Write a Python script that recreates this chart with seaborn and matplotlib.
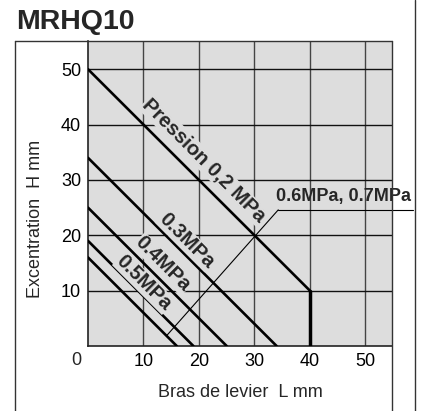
import matplotlib
matplotlib.use("Agg")
import matplotlib.pyplot as plt
import seaborn as sns
import pandas as pd
from matplotlib.lines import Line2D

# ---- data ----
title = "MRHQ10"
x_label = "Bras de levier  L mm"
y_label = "Excentration  H mm"
x_ticks = [10, 20, 30, 40, 50]
y_ticks = [10, 20, 30, 40, 50]
origin_label = "0"

# pressure curves (endpoints)
p02_x = [0, 40]
p02_y = [50, 10]
p02_drop_x = [40, 40]
p02_drop_y = [10, 0]
p03_x = [0, 34]
p03_y = [34, 0]
p04_x = [0, 25]
p04_y = [25, 0]
p05_x = [0, 19]
p05_y = [19, 0]
p067_x = [0, 16]
p067_y = [16, 0]

labels = ["Pression 0,2 MPa", "0.3MPa", "0.4MPa", "0.5MPa", "0.6MPa, 0.7MPa"]

# ---- style ----
sns.set_style("white")
plt.rcParams['font.family'] = ['Liberation Sans', 'DejaVu Sans']

W, H = 428, 411
fig = plt.figure(figsize=(W / 100, H / 100), dpi=100)
L, R, T, B = 88, 392, 41, 346
ax = fig.add_axes([L / W, 1 - B / H, (R - L) / W, (B - T) / H])
bg = "#dddddd"
ax.set_facecolor(bg)
ax.set_xlim(0, 54.8)
ax.set_ylim(0, 55.1)

for v in x_ticks:
    ax.axvline(v, color="#444444", lw=1.0, zorder=1)
for v in y_ticks:
    ax.axhline(v, color="#111111", lw=1.0, zorder=1)

frames = []
for name, xs, ys in [("0.2", p02_x, p02_y), ("0.3", p03_x, p03_y),
                     ("0.4", p04_x, p04_y), ("0.5", p05_x, p05_y),
                     ("0.6/0.7", p067_x, p067_y)]:
    frames.append(pd.DataFrame({"L": xs, "H": ys, "p": name}))
df = pd.concat(frames, ignore_index=True)
sns.lineplot(data=df, x="L", y="H", units="p", estimator=None, sort=False,
             color="black", lw=1.9, ax=ax, zorder=3, legend=False)
sns.lineplot(x=p02_drop_x, y=p02_drop_y, color="black", lw=2.5, ax=ax,
             zorder=3, estimator=None, sort=False, legend=False)

# axes lines
for s in ["top", "right"]:
    ax.spines[s].set_visible(False)
for s in ["left", "bottom"]:
    ax.spines[s].set_color("#222222")
    ax.spines[s].set_linewidth(1.2)

ax.set_xticks(x_ticks)
ax.set_yticks(y_ticks)
ax.set_xticklabels([str(v) for v in x_ticks])
ax.set_yticklabels([str(v) for v in y_ticks])
ax.tick_params(length=0, labelsize=13, colors="black", pad=5)
ax.set_xlabel("")
ax.set_ylabel("")

tb = dict(facecolor=bg, edgecolor="none", pad=0.5)
fs_line = 14.5
ax.text(20.9, 33.5, labels[0], rotation=-45, ha="center", va="center",
        fontsize=fs_line, fontweight="bold", bbox=tb, zorder=4,
        rotation_mode="anchor")
ax.text(17.8, 19.1, labels[1], rotation=-45, ha="center", va="center",
        fontsize=fs_line, fontweight="bold", bbox=tb, zorder=4, rotation_mode="anchor")
ax.text(13.5, 14.8, labels[2], rotation=-45, ha="center", va="center",
        fontsize=fs_line, fontweight="bold", bbox=tb, zorder=4, rotation_mode="anchor")
ax.text(10.1, 11.4, labels[3], rotation=-45, ha="center", va="center",
        fontsize=fs_line, fontweight="bold", bbox=tb, zorder=4, rotation_mode="anchor")

# leader for 0.6 / 0.7 MPa
ax.plot([14.2, 34.3], [1.9, 24.6], color="black", lw=0.8, zorder=2)
ax.plot([34.3, 58.6], [24.6, 24.6], color="black", lw=0.8, zorder=5, clip_on=False)
ax.text(46.0, 25.5, labels[4], ha="center", va="bottom", fontsize=13,
        fontweight="bold", zorder=6, clip_on=False)

# titles / labels
fig.text(16 / W, 1 - 22 / H, title, ha="left", va="center", fontsize=20.5,
         fontweight="bold")
fig.text(240 / W, 1 - 392 / H, x_label, ha="center", va="center", fontsize=13)
fig.text(35.5 / W, 1 - 219 / H, y_label, ha="center", va="center", fontsize=13,
         rotation=90)
fig.text(76 / W, 1 - 360 / H, origin_label, ha="center", va="center", fontsize=13)

# outer frame
fc = "#333333"
fig.add_artist(Line2D([15 / W, 15 / W], [1 - 41 / H, 0], color=fc, lw=1.0))
fig.add_artist(Line2D([15 / W, 392 / W], [1 - 41 / H, 1 - 41 / H], color=fc, lw=1.0))
fig.add_artist(Line2D([392 / W, 392 / W], [1 - 41 / H, 0], color=fc, lw=1.0))
fig.add_artist(Line2D([415 / W, 415 / W], [1, 0], color=fc, lw=1.0))

fig.savefig("out.png", dpi=100, facecolor="white")
